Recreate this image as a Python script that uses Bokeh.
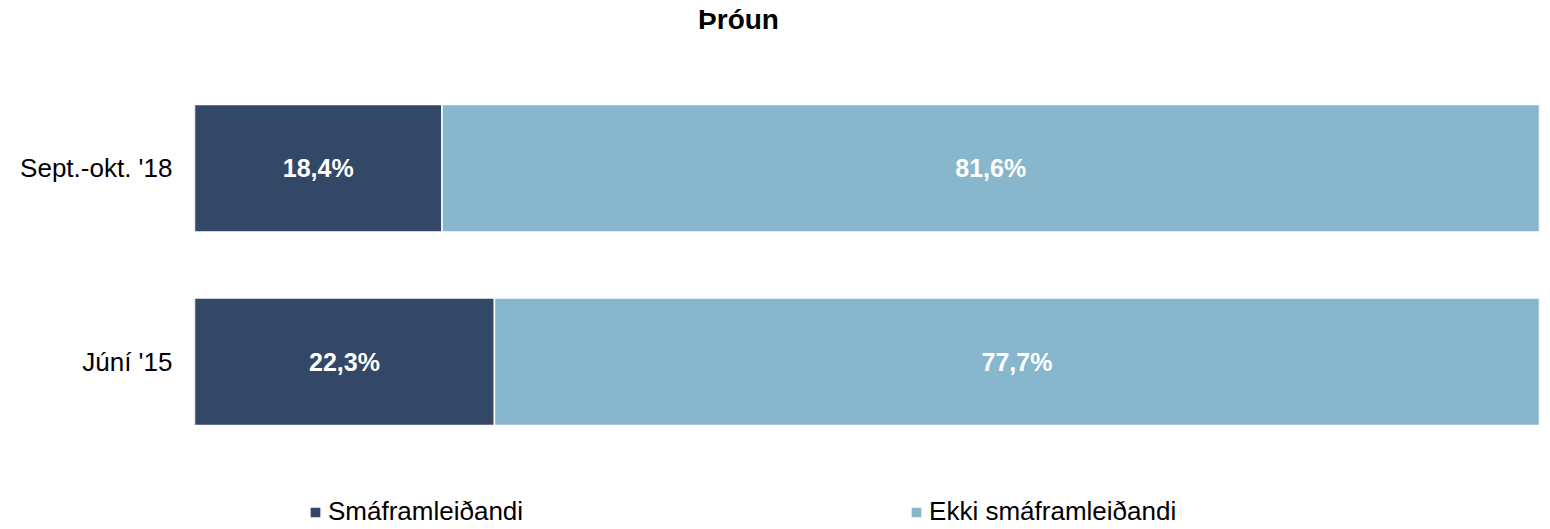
from bokeh.plotting import figure
from bokeh.models import ColumnDataSource, FactorRange, Range1d, Legend, LegendItem, Label
from bokeh.core.properties import value
from bokeh.embed import file_html
from bokeh.resources import INLINE

categories = ["Júní '15", "Sept.-okt. '18"]
small_producer = [22.3, 18.4]
not_small_producer = [77.7, 81.6]
series_names = ["Smáframleiðandi", "Ekki smáframleiðandi"]
colors = ["#334766", "#88b6cc"]
title_text = "Þróun"

def fmt(v):
    return f"{v:.1f}".replace(".", ",") + "%"

src = ColumnDataSource(dict(
    cat=categories,
    s0=[0] * len(categories),
    s1=small_producer,
    s2=[a + b for a, b in zip(small_producer, not_small_producer)],
    m1=[a / 2 for a in small_producer],
    m2=[a + b / 2 for a, b in zip(small_producer, not_small_producer)],
    t1=[fmt(v) for v in small_producer],
    t2=[fmt(v) for v in not_small_producer],
))

W, H = 1550, 529
yr = FactorRange(factors=categories, range_padding=0.367, range_padding_units="absolute")
p = figure(width=W, height=H, y_range=yr,
           x_range=Range1d(0, 100), output_backend="svg", toolbar_location=None,
           min_border_left=194, min_border_right=11, min_border_top=0, min_border_bottom=0)

r1 = p.hbar(y="cat", left="s0", right="s1", height=0.66, source=src,
            fill_color=colors[0], line_color="white", line_width=1.5)
r2 = p.hbar(y="cat", left="s1", right="s2", height=0.66, source=src,
            fill_color=colors[1], line_color="white", line_width=1.5)

for xcol, tcol in (("m1", "t1"), ("m2", "t2")):
    p.text(x=xcol, y="cat", text=tcol, source=src, text_color="white",
           text_font=value("Liberation Sans"), text_font_style="bold",
           text_font_size="25px", text_align="center", text_baseline="middle")

p.xaxis.visible = False
p.xgrid.visible = False
p.ygrid.visible = False
p.outline_line_color = None
p.yaxis.axis_line_color = None
p.yaxis.major_tick_line_color = None
p.yaxis.minor_tick_line_color = None
p.yaxis.major_tick_in = 0
p.yaxis.major_tick_out = 0
p.yaxis.major_label_standoff = 22
p.yaxis.major_label_text_font = "Liberation Sans"
p.yaxis.major_label_text_font_size = "26px"
p.yaxis.major_label_text_color = "black"

title = Label(x=544, y=510, x_units="screen", y_units="screen", text=title_text,
              text_font="Liberation Sans", text_font_style="bold", text_font_size="28px",
              text_align="center", text_baseline="middle", text_color="black")
p.add_layout(title)

legend = Legend(items=[LegendItem(label=series_names[0], renderers=[r1]),
                       LegendItem(label=series_names[1], renderers=[r2])],
                orientation="horizontal", location=(114, 2), padding=0, margin=0,
                spacing=386, glyph_width=14, glyph_height=14, label_standoff=6,
                label_height=24, label_text_font="Liberation Sans", label_text_font_size="26px",
                label_text_color="black",
                border_line_color=None, background_fill_alpha=0)
p.add_layout(legend, "center")

open("out.html", "w").write(file_html(p, INLINE))
